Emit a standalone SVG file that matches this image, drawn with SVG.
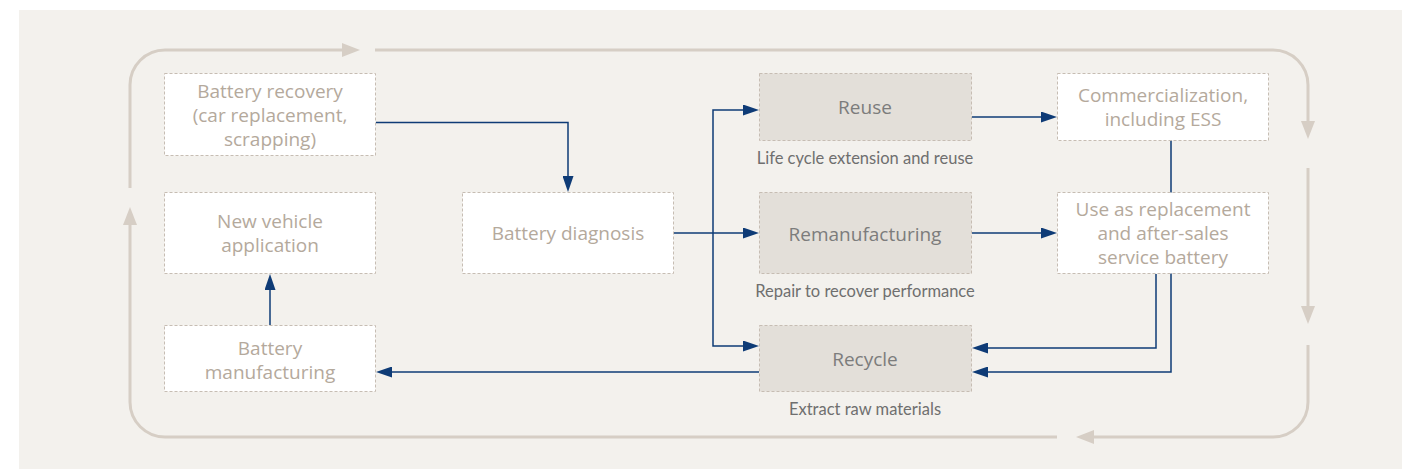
<svg xmlns="http://www.w3.org/2000/svg" width="1402" height="469" viewBox="0 0 1402 469">
<style>
.bg{fill:#f3f1ed}
.loop{fill:none;stroke:#d6cec5;stroke-width:3}
.con{fill:none;stroke:#0e3b76;stroke-width:1.5}
.box{fill:#ffffff;stroke:#c6bdb3;stroke-width:1;stroke-dasharray:3 2}
.gbox{fill:#e3dfd9;stroke:#c6bdb3;stroke-width:1;stroke-dasharray:3 2}
.t{font-family:"Open Sans","Liberation Sans",sans-serif;font-size:19px;fill:#b4a99c;text-anchor:middle}
.tg{font-family:"Open Sans","Liberation Sans",sans-serif;font-size:19px;fill:#7c7c7c;text-anchor:middle}
.sub{font-family:Lato,"Liberation Sans",sans-serif;font-size:16.5px;fill:#6f6f6f;text-anchor:middle}
</style>
<defs>
<marker id="ab" markerUnits="userSpaceOnUse" markerWidth="16" markerHeight="11" refX="10" refY="5.5" orient="auto">
<path d="M0,0 L16,5.5 L0,11 z" fill="#0e3b76"/>
</marker>
<marker id="at" markerUnits="userSpaceOnUse" markerWidth="18" markerHeight="14" refX="10" refY="7" orient="auto">
<path d="M0,0 L18,7 L0,14 z" fill="#d6cec5"/>
</marker>
</defs>
<rect class="bg" x="19" y="10" width="1383" height="459"/>
<g id="cycle">
<path class="loop" d="M130,188 V85 A35,35 0 0 1 165,50 H352" marker-end="url(#at)"/>
<path class="loop" d="M375,50 H1273 A35,35 0 0 1 1308,85 V131" marker-end="url(#at)"/>
<path class="loop" d="M1308,168 V316" marker-end="url(#at)"/>
<path class="loop" d="M1308,345 V402 A35,35 0 0 1 1273,437 H1084" marker-end="url(#at)"/>
<path class="loop" d="M1057,437 H165 A35,35 0 0 1 130,402 V215" marker-end="url(#at)"/>
</g>
<g id="connectors">
<path class="con" d="M376,122.5 H568 V186" marker-end="url(#ab)"/>
<path class="con" d="M674,233 H753" marker-end="url(#ab)"/>
<path class="con" d="M713,233 V110 H753" marker-end="url(#ab)"/>
<path class="con" d="M713,233 V346 H753" marker-end="url(#ab)"/>
<path class="con" d="M972,117 H1051" marker-end="url(#ab)"/>
<path class="con" d="M972,233 H1051" marker-end="url(#ab)"/>
<path class="con" d="M1171,140 V372 H978" marker-end="url(#ab)"/>
<path class="con" d="M1156,274 V348 H978" marker-end="url(#ab)"/>
<path class="con" d="M759,372 H382" marker-end="url(#ab)"/>
<path class="con" d="M270,325 V280" marker-end="url(#ab)"/>
</g>
<g id="battery-recovery">
<rect class="box" x="164.5" y="73.5" width="211" height="82"/>
<text class="t" x="270" y="98">Battery recovery</text>
<text class="t" x="270" y="122">(car replacement,</text>
<text class="t" x="270" y="146">scrapping)</text>
</g>
<g id="new-vehicle">
<rect class="box" x="164.5" y="192.5" width="211" height="81"/>
<text class="t" x="270" y="228">New vehicle</text>
<text class="t" x="270" y="252">application</text>
</g>
<g id="battery-manufacturing">
<rect class="box" x="164.5" y="325.5" width="211" height="66"/>
<text class="t" x="270" y="355">Battery</text>
<text class="t" x="270" y="379">manufacturing</text>
</g>
<g id="battery-diagnosis">
<rect class="box" x="462.5" y="192.5" width="211" height="81"/>
<text class="t" x="568" y="240">Battery diagnosis</text>
</g>
<g id="reuse">
<rect class="gbox" x="759.5" y="73.5" width="212" height="67"/>
<text class="tg" x="865" y="114">Reuse</text>
<text class="sub" x="865" y="164">Life cycle extension and reuse</text>
</g>
<g id="remanufacturing">
<rect class="gbox" x="759.5" y="192.5" width="212" height="81"/>
<text class="tg" x="865" y="241">Remanufacturing</text>
<text class="sub" x="865" y="297">Repair to recover performance</text>
</g>
<g id="recycle">
<rect class="gbox" x="759.5" y="325.5" width="212" height="66"/>
<text class="tg" x="865" y="366">Recycle</text>
<text class="sub" x="865" y="415">Extract raw materials</text>
</g>
<g id="commercialization">
<rect class="box" x="1057.5" y="73.5" width="211" height="67"/>
<text class="t" x="1163" y="101.5">Commercialization,</text>
<text class="t" x="1163" y="125.5">including ESS</text>
</g>
<g id="replacement">
<rect class="box" x="1057.5" y="192.5" width="211" height="81"/>
<text class="t" x="1163" y="216">Use as replacement</text>
<text class="t" x="1163" y="240">and after-sales</text>
<text class="t" x="1163" y="264">service battery</text>
</g>
</svg>
